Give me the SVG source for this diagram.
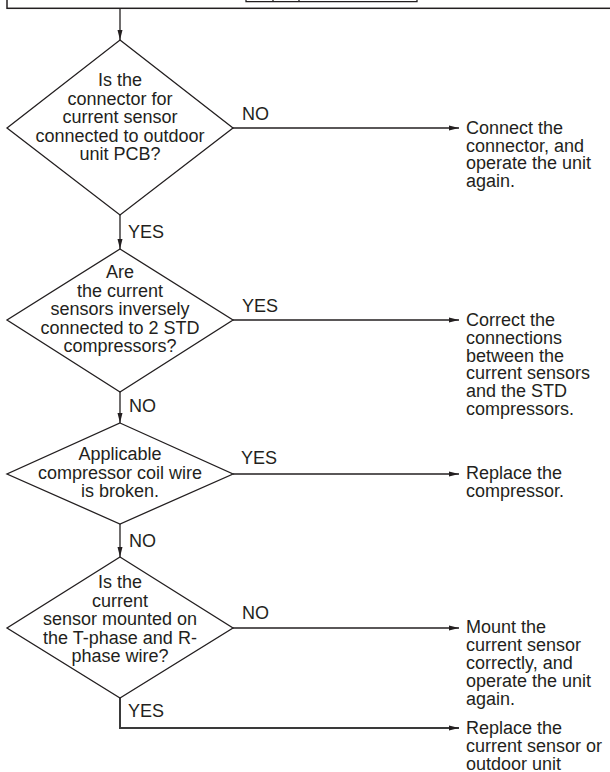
<svg xmlns="http://www.w3.org/2000/svg" width="610" height="772" viewBox="0 0 610 772">
<style>
text{font-family:"Liberation Sans",Arial,Helvetica,sans-serif;font-size:18px;fill:#231f20}
.c{text-anchor:middle}
.shape{fill:#fff;stroke:#231f20;stroke-width:1.3}
.ln{fill:none;stroke:#231f20;stroke-width:1.3}
.ln2{fill:none;stroke:#3a3a3a;stroke-width:2}
</style>
<defs>
<marker id="ah" viewBox="0 0 10 6" refX="10" refY="3" markerWidth="10" markerHeight="6" markerUnits="userSpaceOnUse" orient="auto">
<path d="M0,0.5 L10,3 L0,5.5 z" fill="#231f20"/>
</marker>
</defs>
<g id="top-box">
<rect x="7" y="-20" width="620" height="28.3" fill="#fff" stroke="#231f20" stroke-width="1.5"/>
<path class="ln" d="M246,-5 V1.7 H417 V-5 M273,-5 V1.7 M299,-5 V1.7" stroke-width="1"/>
</g>
<g id="connectors">
<path class="ln" d="M120,8.5 V40" marker-end="url(#ah)"/>
<path class="ln" d="M233,128 H459" marker-end="url(#ah)"/>
<path class="ln" d="M120,215 V249" marker-end="url(#ah)"/>
<path class="ln" d="M233,320 H459" marker-end="url(#ah)"/>
<path class="ln" d="M120,392 V423" marker-end="url(#ah)"/>
<path class="ln" d="M233,474 H459" marker-end="url(#ah)"/>
<path class="ln" d="M120,524 V557" marker-end="url(#ah)"/>
<path class="ln" d="M233,628 H459" marker-end="url(#ah)"/>
<path class="ln2" d="M120,698 V728 H459" marker-end="url(#ah)"/>
<text x="242" y="119.5">NO</text>
<text x="128" y="238">YES</text>
<text x="242" y="312">YES</text>
<text x="129" y="412">NO</text>
<text x="241" y="464">YES</text>
<text x="129" y="547">NO</text>
<text x="242" y="619">NO</text>
<text x="128" y="717">YES</text>
</g>
<g id="d1">
<polygon class="shape" points="120,40 233,128 120,215 7,128"/>
<text class="c" x="120" y="86">Is the</text>
<text class="c" x="120" y="104.5">connector for</text>
<text class="c" x="120" y="123">current sensor</text>
<text class="c" x="120" y="141.5">connected to outdoor</text>
<text class="c" x="120" y="160">unit PCB?</text>
</g>
<g id="r1">
<text x="466" y="134">Connect the</text>
<text x="466" y="151.7">connector, and</text>
<text x="466" y="169.4">operate the unit</text>
<text x="466" y="187.1">again.</text>
</g>
<g id="d2">
<polygon class="shape" points="120,249 233,320 120,392 7,320"/>
<text class="c" x="120" y="278">Are</text>
<text class="c" x="120" y="296.5">the current</text>
<text class="c" x="120" y="315">sensors inversely</text>
<text class="c" x="120" y="333.5">connected to 2 STD</text>
<text class="c" x="120" y="352">compressors?</text>
</g>
<g id="r2">
<text x="466" y="326">Correct the</text>
<text x="466" y="343.8">connections</text>
<text x="466" y="361.6">between the</text>
<text x="466" y="379.4">current sensors</text>
<text x="466" y="397.2">and the STD</text>
<text x="466" y="415">compressors.</text>
</g>
<g id="d3">
<polygon class="shape" points="120,423 233,474 120,524 7,474"/>
<text class="c" x="120" y="460">Applicable</text>
<text class="c" x="120" y="478.5">compressor coil wire</text>
<text class="c" x="120" y="497">is broken.</text>
</g>
<g id="r3">
<text x="466" y="478.5">Replace the</text>
<text x="466" y="496.5">compressor.</text>
</g>
<g id="d4">
<polygon class="shape" points="120,557 233,628 120,698 7,628"/>
<text class="c" x="120" y="588">Is the</text>
<text class="c" x="120" y="606.5">current</text>
<text class="c" x="120" y="625">sensor mounted on</text>
<text class="c" x="120" y="643.5">the T-phase and R-</text>
<text class="c" x="120" y="662">phase wire?</text>
</g>
<g id="r4">
<text x="466" y="633">Mount the</text>
<text x="466" y="651">current sensor</text>
<text x="466" y="669">correctly, and</text>
<text x="466" y="687">operate the unit</text>
<text x="466" y="705">again.</text>
</g>
<g id="r5">
<text x="466" y="734">Replace the</text>
<text x="466" y="752">current sensor or</text>
<text x="466" y="770">outdoor unit</text>
</g>
</svg>
